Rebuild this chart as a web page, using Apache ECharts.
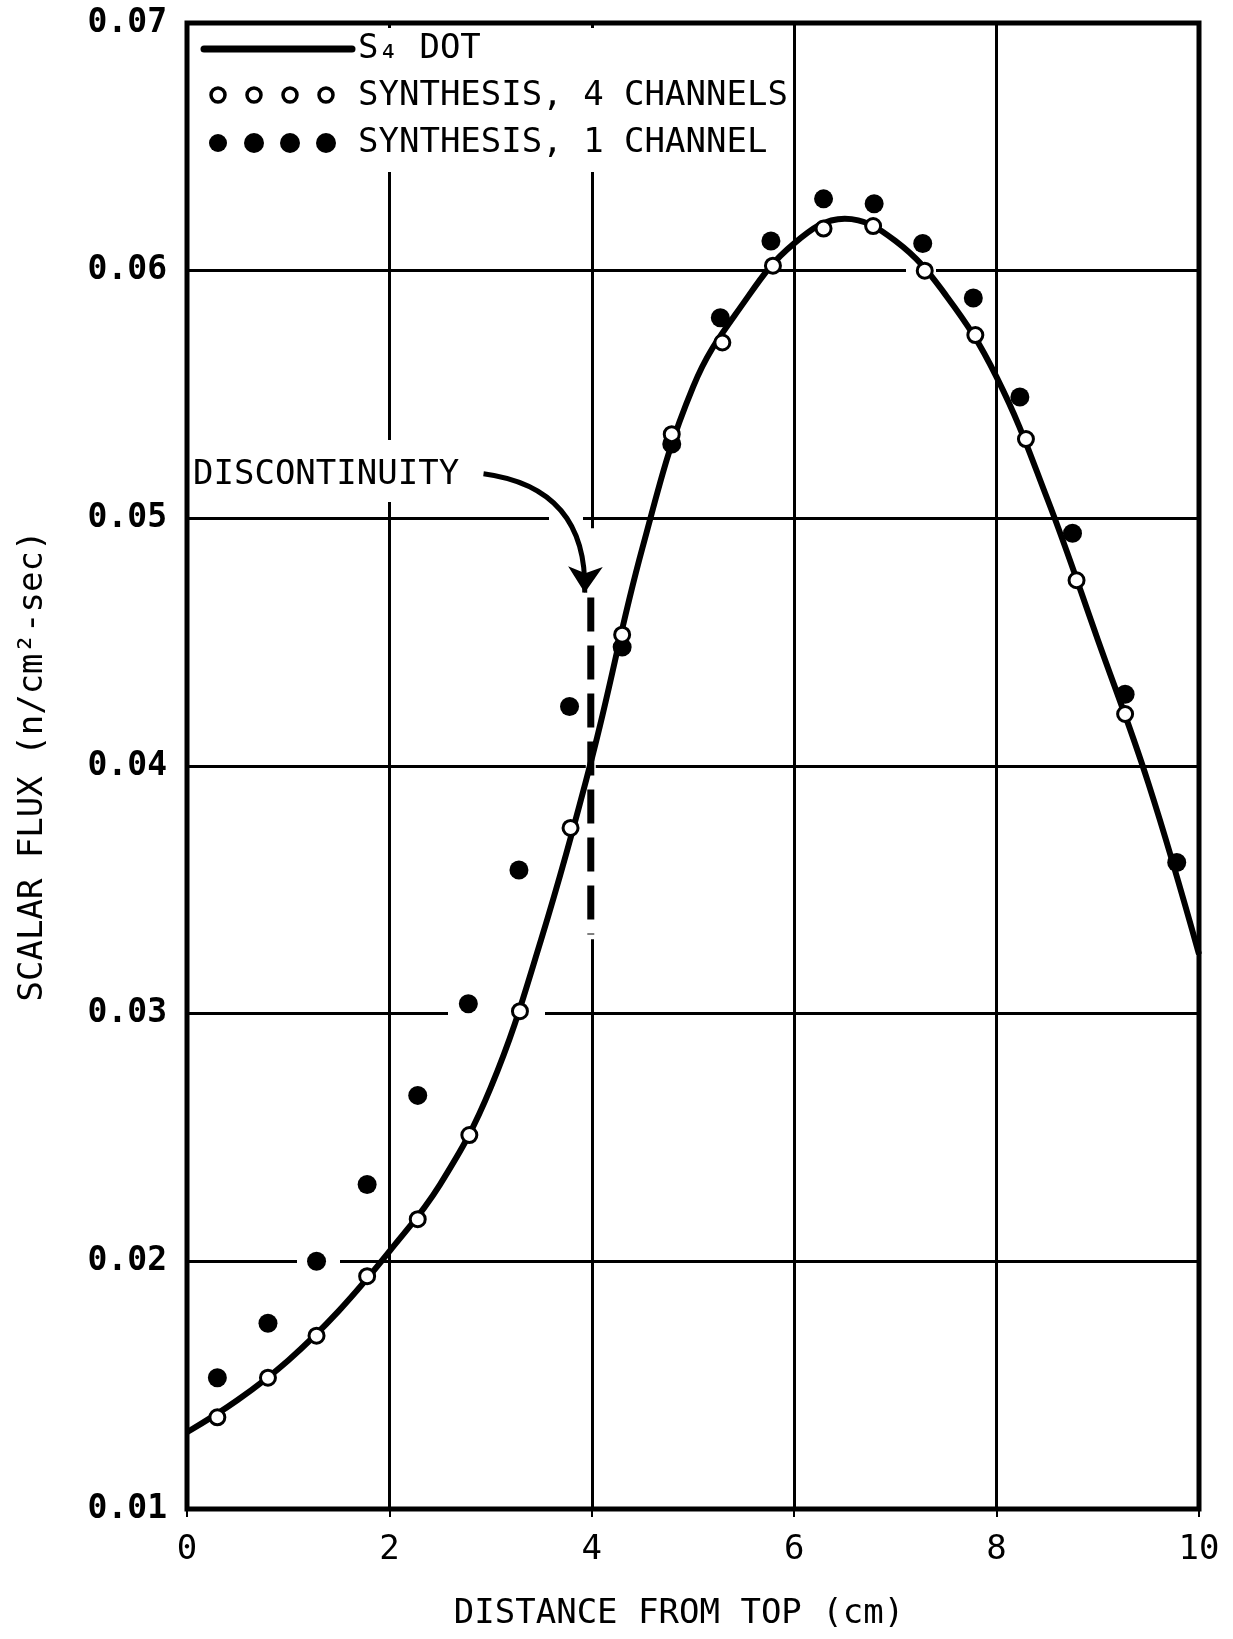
<!DOCTYPE html>
<html>
<head>
<meta charset="utf-8">
<title>Scalar flux vs distance from top</title>
<script src="https://cdn.jsdelivr.net/npm/echarts@6/dist/echarts.min.js"></script>
<style>
  html, body { margin: 0; padding: 0; background: #fff; }
  #chart { width: 1233px; height: 1639px; }
</style>
</head>
<body>
<div id="chart"></div>
<script>
// S4 DOT curve
var dotX = [0, 0.5, 1, 1.5, 2, 2.5, 3, 3.5, 4, 4.5, 5, 5.5, 6, 6.5, 7, 7.5, 8, 8.5, 9, 9.5, 10];
var dotFlux = [0.0131, 0.0144, 0.0160, 0.0180, 0.0204, 0.0231, 0.0270, 0.0330, 0.0403, 0.0488, 0.0553,
               0.0587, 0.0611, 0.0621, 0.0612, 0.0590, 0.0557, 0.0508, 0.0451, 0.0393, 0.0324];

// synthesis, 4 channels (open circles)
var fourX = [0.30, 0.80, 1.28, 1.78, 2.28, 2.79, 3.29, 3.79, 4.30, 4.79, 5.29, 5.79, 6.29, 6.78, 7.29, 7.79, 8.29, 8.79, 9.27];
var fourFlux = [0.0137, 0.0153, 0.0170, 0.0194, 0.0217, 0.0251, 0.0301, 0.0375, 0.0453, 0.0534, 0.0571,
                0.0602, 0.0617, 0.0618, 0.0600, 0.0574, 0.0532, 0.0475, 0.0421];

// synthesis, 1 channel (filled circles)
var oneX = [0.30, 0.80, 1.28, 1.78, 2.28, 2.78, 3.28, 3.78, 4.30, 4.79, 5.27, 5.77, 6.29, 6.79, 7.27, 7.77, 8.23, 8.75, 9.27, 9.78];
var oneFlux = [0.0153, 0.0175, 0.0200, 0.0231, 0.0267, 0.0304, 0.0358, 0.0424, 0.0448, 0.0530, 0.0581,
               0.0612, 0.0629, 0.0627, 0.0611, 0.0589, 0.0549, 0.0494, 0.0429, 0.0361];

// discontinuity marker and its pointer
var discX = [3.99, 3.99];
var discFlux = [0.0468, 0.0332];
var arrowX = [2.93, 3.93];
var arrowFlux = [0.0518, 0.0470];

var yTickLabels = ['0.01', '0.02', '0.03', '0.04', '0.05', '0.06', '0.07'];

var FONT = 'DejaVu Sans Mono';

function pairs(xs, ys) {
    return xs.map(function (x, i) { return [x, ys[i]]; });
}

var chart = echarts.init(document.getElementById('chart'));

var option = {
    backgroundColor: '#fff',
    animation: false,
    grid: {
        left: 187, right: 34, top: 23, bottom: 130,
        show: true, borderColor: '#000', borderWidth: 5, backgroundColor: 'transparent'
    },
    xAxis: {
        type: 'value', min: 0, max: 10, interval: 2,
        name: 'DISTANCE FROM TOP (cm)', nameLocation: 'middle', nameGap: 88,
        nameTextStyle: { fontFamily: FONT, fontSize: 34, color: '#000', padding: [0, 28, 0, 0] },
        axisLine: { show: false },
        axisTick: { show: true, length: 8, lineStyle: { color: '#000', width: 2 } },
        axisLabel: { fontFamily: FONT, fontSize: 34, color: '#000', margin: 24 },
        splitLine: { show: true, lineStyle: { color: '#000', width: 3 } }
    },
    yAxis: {
        type: 'value', min: 0.01, max: 0.07, interval: 0.01,
        name: 'SCALAR FLUX (n/cm²-sec)', nameLocation: 'middle', nameGap: 137,
        nameTextStyle: { fontFamily: FONT, fontSize: 34, color: '#000' },
        axisLine: { show: false },
        axisTick: { show: false },
        axisLabel: {
            fontFamily: FONT, fontSize: 33, fontWeight: 'bold', color: '#000', margin: 20,
            formatter: function (v) { return yTickLabels[Math.round(v * 100) - 1]; }
        },
        splitLine: { show: true, lineStyle: { color: '#000', width: 3 } }
    },
    graphic: [
        // blank paper behind the key and the note (grid lines stop there)
        { type: 'rect', z: 1, silent: true, shape: { x: 192, y: 28, width: 593, height: 144 }, style: { fill: '#fff' } },
        { type: 'rect', z: 1, silent: true, shape: { x: 192, y: 440, width: 275, height: 62 }, style: { fill: '#fff' } },
        // gaps in grid lines around the hand-placed points
        { type: 'rect', z: 1, silent: true, shape: { x: 549, y: 511, width: 34, height: 14 }, style: { fill: '#fff' } },
        { type: 'rect', z: 1, silent: true, shape: { x: 448, y: 1007, width: 97, height: 14 }, style: { fill: '#fff' } },
        { type: 'rect', z: 1, silent: true, shape: { x: 297, y: 1254, width: 43, height: 14 }, style: { fill: '#fff' } },
        { type: 'rect', z: 1, silent: true, shape: { x: 906, y: 264, width: 30, height: 14 }, style: { fill: '#fff' } },

        // key
        { type: 'line', z: 5, shape: { x1: 204, y1: 49, x2: 352, y2: 49 }, style: { stroke: '#000', lineWidth: 7, lineCap: 'round' } },
        { type: 'circle', z: 5, shape: { cx: 218, cy: 95, r: 7 }, style: { fill: '#fff', stroke: '#000', lineWidth: 3.5 } },
        { type: 'circle', z: 5, shape: { cx: 254, cy: 95, r: 7 }, style: { fill: '#fff', stroke: '#000', lineWidth: 3.5 } },
        { type: 'circle', z: 5, shape: { cx: 290, cy: 95, r: 7 }, style: { fill: '#fff', stroke: '#000', lineWidth: 3.5 } },
        { type: 'circle', z: 5, shape: { cx: 326, cy: 95, r: 7 }, style: { fill: '#fff', stroke: '#000', lineWidth: 3.5 } },
        { type: 'circle', z: 5, shape: { cx: 218, cy: 143, r: 9 }, style: { fill: '#000' } },
        { type: 'circle', z: 5, shape: { cx: 254, cy: 143, r: 10 }, style: { fill: '#000' } },
        { type: 'circle', z: 5, shape: { cx: 290, cy: 143, r: 10 }, style: { fill: '#000' } },
        { type: 'circle', z: 5, shape: { cx: 326, cy: 143, r: 10 }, style: { fill: '#000' } },
        { type: 'text', z: 5, x: 358, y: 49, style: { text: 'S₄ DOT', fontFamily: FONT, fontSize: 34, fill: '#000', verticalAlign: 'middle', textVerticalAlign: 'middle' } },
        { type: 'text', z: 5, x: 358, y: 96, style: { text: 'SYNTHESIS, 4 CHANNELS', fontFamily: FONT, fontSize: 34, fill: '#000', verticalAlign: 'middle', textVerticalAlign: 'middle' } },
        { type: 'text', z: 5, x: 358, y: 143, style: { text: 'SYNTHESIS, 1 CHANNEL', fontFamily: FONT, fontSize: 34, fill: '#000', verticalAlign: 'middle', textVerticalAlign: 'middle' } },

        // note
        { type: 'text', z: 5, x: 193, y: 475, style: { text: 'DISCONTINUITY', fontFamily: FONT, fontSize: 34, fill: '#000', verticalAlign: 'middle', textVerticalAlign: 'middle' } }
    ],
    series: [
        {
            name: 'gap', type: 'line', z: 1, silent: true,
            data: pairs(discX, [0.0496, 0.0330]),
            showSymbol: false,
            lineStyle: { color: '#fff', width: 10 }
        },
        {
            name: 'DISCONTINUITY', type: 'line', z: 3, silent: true,
            data: pairs(discX, discFlux),
            showSymbol: false,
            lineStyle: { color: '#000', width: 7, type: [34, 14] }
        },
        {
            name: 'pointer', type: 'lines', coordinateSystem: 'cartesian2d', z: 3, silent: true,
            symbol: ['none', 'arrow'], symbolSize: [0, 26],
            lineStyle: { color: '#000', width: 5, curveness: 0.45, opacity: 1 },
            data: [{ coords: pairs(arrowX, arrowFlux) }]
        },
        {
            name: 'S4 DOT', type: 'line', z: 2,
            data: pairs(dotX, dotFlux),
            smooth: 0.4, showSymbol: false,
            lineStyle: { color: '#000', width: 6 }
        },
        {
            name: 'SYNTHESIS, 1 CHANNEL', type: 'scatter', z: 3,
            data: pairs(oneX, oneFlux),
            symbol: 'circle', symbolSize: 19,
            itemStyle: { color: '#000', opacity: 1 }
        },
        {
            name: 'SYNTHESIS, 4 CHANNELS', type: 'scatter', z: 4,
            data: pairs(fourX, fourFlux),
            symbol: 'circle', symbolSize: 15,
            itemStyle: { color: '#fff', borderColor: '#000', borderWidth: 3, opacity: 1 }
        }
    ]
};

chart.setOption(option);
</script>
</body>
</html>
